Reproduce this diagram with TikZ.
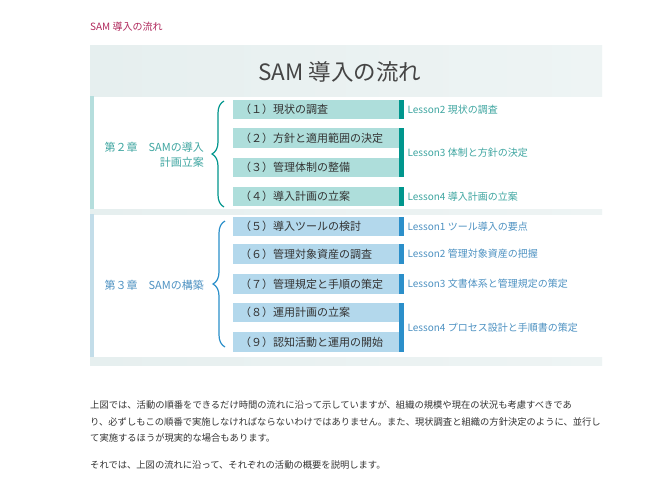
\documentclass[tikz,border=0pt]{standalone}
\usepackage{fontspec}
\setmainfont{Noto Sans CJK JP}
\usetikzlibrary{positioning,calc,decorations.pathreplacing}
\definecolor{samCrimson}{HTML}{B0285C}
\definecolor{samTitle}{HTML}{454545}
\definecolor{samText}{HTML}{333333}
\definecolor{samBandL}{HTML}{E6EFEF}
\definecolor{samBandR}{HTML}{EEF4F4}
\definecolor{samTealBox}{HTML}{AEDEDB}
\definecolor{samTealBar}{HTML}{00968D}
\definecolor{samTealText}{HTML}{3FA6A1}
\definecolor{samTealEdge}{HTML}{B5DEDD}
\definecolor{samBlueBox}{HTML}{B3D8EC}
\definecolor{samBlueBar}{HTML}{2B8FCA}
\definecolor{samBlueText}{HTML}{4E92C2}
\definecolor{samBlueEdge}{HTML}{C3DDE9}

\begin{document}
\begin{tikzpicture}[
  x=1pt, y=-1pt,
  koumoku/.style={anchor=west, minimum height=19.5pt, text width=152pt, inner xsep=7pt, inner ysep=0pt,
                  align=left, font=\fontsize{11pt}{13pt}\selectfont, text=samText},
  kou2/.style={koumoku, fill=samTealBox},
  kou3/.style={koumoku, fill=samBlueBox},
  lesson/.style={anchor=west, inner sep=0pt, font=\fontsize{10pt}{12pt}\selectfont},
  lesson2/.style={lesson, text=samTealText},
  lesson3/.style={lesson, text=samBlueText},
  shou/.style={anchor=east, inner sep=0pt, align=right, font=\fontsize{11pt}{15pt}\selectfont},
  nami/.style={decorate, decoration={brace, amplitude=12pt}, line width=1.2pt},
  honbun/.style={anchor=north west, inner sep=0pt, align=left, text=samText,
                 font=\fontsize{9.3pt}{16.5pt}\selectfont},
]
\useasboundingbox (0,0) rectangle (666,480);
\fill[white] (0,0) rectangle (666,480);

% ----見出し ----
\node[anchor=west, inner sep=0pt, font=\fontsize{10pt}{12pt}\selectfont, text=samCrimson] (head) at (90,27) {SAM 導入の流れ};

% ---- 帯 ----
\shade[left color=samBandL, right color=samBandR] (90,45) rectangle (602,96);
\node[font=\fontsize{22.5pt}{26pt}\selectfont, text=samTitle] (title) at (340,72) {SAM 導入の流れ};
\fill[samTealEdge] (90,96) rectangle (94,209);
\shade[left color=samBandL, right color=samBandR] (90,209) rectangle (602,214);
\fill[samBlueEdge] (90,214) rectangle (94,357);
\shade[left color=samBandL, right color=samBandR] (90,357) rectangle (602,365);

% ---- 第２章 ----
\node[kou2] (k1) at (233,109.5) {（１）現状の調査};
\node[kou2] (k2) at (233,138)   {（２）方針と適用範囲の決定};
\node[kou2] (k3) at (233,167.5) {（３）管理体制の整備};
\node[kou2] (k4) at (233,196.5) {（４）導入計画の立案};

\fill[samTealBar] (k1.north east) rectangle ([xshift=5pt]k1.south east);
\fill[samTealBar] (k2.north east) rectangle ([xshift=5pt]k3.south east);
\fill[samTealBar] (k4.north east) rectangle ([xshift=5pt]k4.south east);

\node[lesson2] (l1) at ([xshift=8pt]k1.east) {Lesson2 現状の調査};
\node[lesson2] (l2) at ($(k2.east)!0.5!(k3.east)+(8,0)$) {Lesson3 体制と方針の決定};
\node[lesson2] (l3) at ([xshift=8pt]k4.east) {Lesson4 導入計画の立案};

\node[shou, text=samTealText] (c2) at (204,155) {第２章　SAMの導入\\計画立案};
\draw[nami, draw=samTealBar] (224,207) -- (224,101);

% ---- 第３章 ----
\node[kou3] (k5) at (233,226.5) {（５）導入ツールの検討};
\node[kou3] (k6) at (233,254)   {（６）管理対象資産の調査};
\node[kou3] (k7) at (233,284)   {（７）管理規定と手順の策定};
\node[kou3] (k8) at (233,312.5) {（８）運用計画の立案};
\node[kou3] (k9) at (233,342)   {（９）認知活動と運用の開始};

\fill[samBlueBar] (k5.north east) rectangle ([xshift=5pt]k5.south east);
\fill[samBlueBar] (k6.north east) rectangle ([xshift=5pt]k6.south east);
\fill[samBlueBar] (k7.north east) rectangle ([xshift=5pt]k7.south east);
\fill[samBlueBar] (k8.north east) rectangle ([xshift=5pt]k9.south east);

\node[lesson3] (l4) at ([xshift=8pt]k5.east) {Lesson1 ツール導入の要点};
\node[lesson3] (l5) at ([xshift=8pt]k6.east) {Lesson2 管理対象資産の把握};
\node[lesson3] (l6) at ([xshift=8pt]k7.east) {Lesson3 文書体系と管理規定の策定};
\node[lesson3] (l7) at ($(k8.east)!0.5!(k9.east)+(8,0)$) {Lesson4 プロセス設計と手順書の策定};

\node[shou, text=samBlueText] (c3) at (204,285) {第３章　SAMの構築};
\draw[nami, draw=samBlueBar] (225,347) -- (225,221);

% ---- 本文 ----
\node[honbun] (p1) at (90,400.5)
  {上図では、活動の順番をできるだけ時間の流れに沿って示していますが、組織の規模や現在の状況も考慮すべきであ\\
   り、必ずしもこの順番で実施しなければならないわけではありません。また、現状調査と組織の方針決定のように、並行し\\
   て実施するほうが現実的な場合もあります。};
\node[honbun] (p2) at (90,460.5) {それでは、上図の流れに沿って、それぞれの活動の概要を説明します。};

\end{tikzpicture}
\end{document}
